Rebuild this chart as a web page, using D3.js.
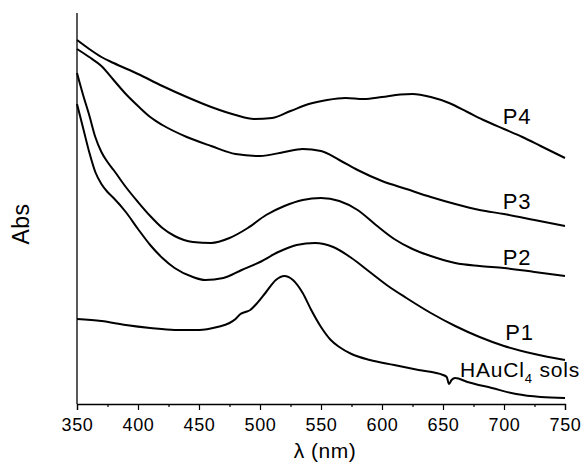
<!DOCTYPE html>
<html>
<head>
<meta charset="utf-8">
<script src="https://cdn.jsdelivr.net/npm/d3@7/dist/d3.min.js"></script>
<style>
  body { margin: 0; background: #fff; }
  text { font-family: "Liberation Sans", Arial, sans-serif; fill: #000; }
</style>
</head>
<body>
<div class="chart"></div>
<script>
var svgWidth = 584;
var svgHeight = 463;

var margin = { top: 13, right: 19, bottom: 59, left: 77 };
var width = svgWidth - margin.left - margin.right;
var height = svgHeight - margin.top - margin.bottom;

// spectra (arbitrary absorbance units)
var p4Wave = [350, 360, 370, 380, 400, 420, 440, 460, 480, 495, 510, 525, 540, 555, 570, 585, 600, 615, 625, 640, 655, 670, 685, 700, 715, 730, 750];
var p4Abs  = [3.64, 3.55, 3.47, 3.41, 3.30, 3.18, 3.07, 2.97, 2.89, 2.85, 2.86, 2.93, 3.00, 3.04, 3.06, 3.05, 3.07, 3.095, 3.10, 3.07, 3.01, 2.92, 2.83, 2.75, 2.67, 2.58, 2.46];

var p3Wave = [350, 360, 370, 380, 390, 400, 410, 420, 440, 460, 480, 500, 520, 535, 550, 565, 580, 600, 620, 640, 660, 680, 700, 725, 750];
var p3Abs  = [3.55, 3.47, 3.38, 3.24, 3.10, 2.98, 2.87, 2.79, 2.67, 2.58, 2.50, 2.48, 2.52, 2.55, 2.53, 2.44, 2.34, 2.23, 2.15, 2.07, 2.00, 1.94, 1.90, 1.84, 1.78];

var p2Wave = [350, 355, 360, 365, 370, 375, 380, 390, 400, 410, 420, 430, 445, 460, 475, 490, 505, 520, 535, 550, 565, 580, 595, 610, 625, 640, 660, 680, 700, 725, 750];
var p2Abs  = [3.31, 3.09, 2.89, 2.67, 2.52, 2.42, 2.34, 2.17, 2.02, 1.88, 1.76, 1.68, 1.62, 1.61, 1.66, 1.76, 1.89, 1.98, 2.04, 2.06, 2.03, 1.94, 1.79, 1.65, 1.55, 1.48, 1.41, 1.38, 1.36, 1.32, 1.28];

var p1Wave = [350, 355, 360, 365, 370, 375, 380, 390, 400, 410, 420, 430, 445, 455, 470, 485, 500, 515, 530, 545, 560, 575, 590, 605, 620, 640, 660, 680, 700, 725, 750];
var p1Abs  = [3.00, 2.76, 2.52, 2.32, 2.20, 2.12, 2.06, 1.92, 1.75, 1.59, 1.46, 1.36, 1.27, 1.24, 1.26, 1.34, 1.42, 1.52, 1.59, 1.61, 1.57, 1.46, 1.32, 1.18, 1.06, 0.91, 0.78, 0.67, 0.58, 0.50, 0.44];

var auWave = [350, 370, 390, 410, 430, 450, 465, 475, 480, 484, 488, 492, 497, 505, 513, 520, 527, 535, 542, 550, 558, 565, 575, 590, 610, 630, 650, 653, 655, 657, 660, 670, 690, 710, 730, 750];
var auAbs  = [0.85, 0.83, 0.79, 0.76, 0.74, 0.74, 0.77, 0.81, 0.85, 0.90, 0.92, 0.94, 1.00, 1.12, 1.24, 1.28, 1.24, 1.11, 0.94, 0.77, 0.64, 0.57, 0.50, 0.44, 0.39, 0.34, 0.29, 0.27, 0.20, 0.24, 0.26, 0.22, 0.16, 0.10, 0.07, 0.06];

var seriesNames = ["P4", "P3", "P2", "P1", "HAuCl4 sols"];
var labelWave = [699, 699, 699, 701, 664];
var labelAbs  = [2.80, 1.95, 1.39, 0.64, 0.27];

var xTicks = [350, 400, 450, 500, 550, 600, 650, 700, 750];
var xMinorTicks = [375, 425, 475, 525, 575, 625, 675, 725];

var waves = [p4Wave, p3Wave, p2Wave, p1Wave, auWave];
var absVals = [p4Abs, p3Abs, p2Abs, p1Abs, auAbs];

var svg = d3.select(".chart")
  .append("svg")
  .attr("width", svgWidth)
  .attr("height", svgHeight);

var chartGroup = svg.append("g")
  .attr("transform", `translate(${margin.left}, ${margin.top})`);

var xLinearScale = d3.scaleLinear()
  .domain([350, 750])
  .range([0, width]);

var yLinearScale = d3.scaleLinear()
  .domain([0, 3.91])
  .range([height, 0]);

// x axis: major ticks with labels, minor ticks without
var bottomAxis = d3.axisBottom(xLinearScale)
  .tickValues(xTicks)
  .tickSize(6)
  .tickPadding(8);

var xAxis = chartGroup.append("g")
  .attr("transform", `translate(0, ${height})`)
  .call(bottomAxis);

xAxis.select(".domain").attr("stroke", "#000").attr("stroke-width", 1.3);
xAxis.selectAll(".tick line").attr("stroke", "#000").attr("stroke-width", 1.2);
xAxis.selectAll(".tick text")
  .style("font-size", "18px")
  .style("letter-spacing", "0.6px")
  .attr("font-family", null);

chartGroup.append("g")
  .attr("transform", `translate(0, ${height})`)
  .call(d3.axisBottom(xLinearScale).tickValues(xMinorTicks).tickSize(3).tickFormat(""))
  .call(g => g.select(".domain").remove())
  .selectAll(".tick line").attr("stroke", "#000").attr("stroke-width", 1.2);

// y axis, no ticks
chartGroup.append("line")
  .attr("x1", 0).attr("x2", 0)
  .attr("y1", 0).attr("y2", height)
  .attr("stroke", "#000")
  .attr("stroke-width", 1.3);

var line = d3.line()
  .x(d => xLinearScale(d[0]))
  .y(d => yLinearScale(d[1]))
  .curve(d3.curveMonotoneX);

waves.forEach(function(w, i) {
  var pts = w.map((x, j) => [x, absVals[i][j]]);
  chartGroup.append("path")
    .datum(pts)
    .attr("fill", "none")
    .attr("stroke", "#000")
    .attr("stroke-width", 2)
    .attr("stroke-linejoin", "round")
    .attr("d", line);
});

// curve labels
seriesNames.forEach(function(name, i) {
  var t = chartGroup.append("text")
    .attr("x", xLinearScale(labelWave[i]))
    .attr("y", yLinearScale(labelAbs[i]))
    .style("font-size", i < 4 ? "22px" : "21px")
    .style("letter-spacing", "0.8px");
  if (name === "HAuCl4 sols") {
    t.append("tspan").text("HAuCl");
    t.append("tspan").attr("dy", 6).style("font-size", "13px").text("4");
    t.append("tspan").attr("dy", -6).text(" sols");
  } else {
    t.text(name);
  }
});

// axis titles
svg.append("text")
  .attr("x", 325)
  .attr("y", 458)
  .attr("text-anchor", "middle")
  .style("font-size", "21px")
  .style("letter-spacing", "0.5px")
  .text("λ (nm)");

svg.append("text")
  .attr("transform", "rotate(-90)")
  .attr("x", -224)
  .attr("y", 29)
  .attr("text-anchor", "middle")
  .style("font-size", "23px")
  .style("letter-spacing", "0.5px")
  .text("Abs");
</script>
</body>
</html>
